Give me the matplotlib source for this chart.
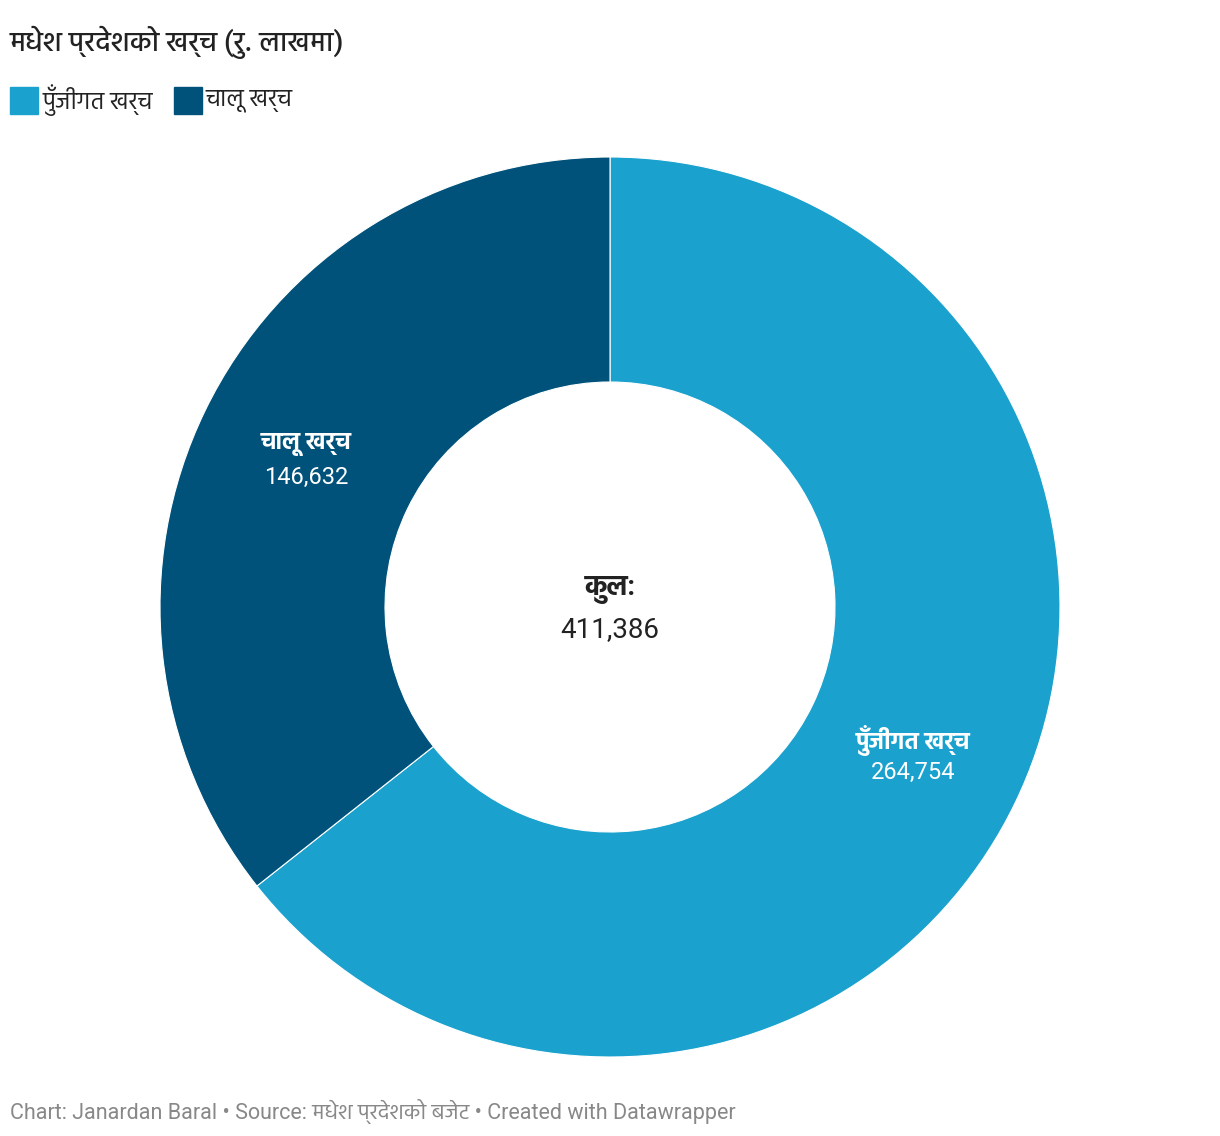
import matplotlib
matplotlib.use("Agg")
import matplotlib.pyplot as plt
from matplotlib.patches import Rectangle

# data
shirshak = ["पुँजीगत खर्च", "चालू खर्च"]
rakam = [264754, 146632]
rang = ["#1aa1ce", "#00527a"]
kul = sum(rakam)

plt.rcParams["font.family"] = ["Roboto", "Hind", "DejaVu Sans"]

fig = plt.figure(figsize=(12.2, 11.36), dpi=100)
W, H = 1220, 1136

# donut: center (610,607), radius 450 px
cx, cy, r = 610, 607, 450
ax = fig.add_axes([(cx - r) / W, 1 - (cy + r) / H, 2 * r / W, 2 * r / H])
wedges, _ = ax.pie(rakam, colors=rang, startangle=90, counterclock=False,
                   wedgeprops=dict(width=0.5, edgecolor="white", linewidth=0.8))
ax.set_xlim(-1, 1)
ax.set_ylim(-1, 1)
ax.set_aspect("equal")
ax.axis("off")

# nhãn trên vòng
vitri = [(913, 740), (306, 445)]
for ten, gt, (px, py) in zip(shirshak, rakam, vitri):
    x = (px - cx) / r
    y = -(py - cy) / r
    ax.text(x, y, ten, ha="center", va="center", color="white",
            fontsize=17, fontweight="bold")
    ax.text(x, y - 32 / r, f"{gt:,}", ha="center", va="center",
            color="white", fontsize=17)

ax.text(0, 17 / r, "कुल:", ha="center", va="center", color="#222222",
        fontsize=20, fontweight="bold")
ax.text(0, -23 / r, f"{kul:,}", ha="center", va="center", color="#222222",
        fontsize=20)

# tiêu đề
fig.text(10 / W, 1 - 42 / H, "मधेश प्रदेशको खर्च (रु. लाखमा)", ha="left",
         va="center", fontsize=20, color="#222222", fontweight="medium")

# chú giải
lx = 10
for ten, c in zip(shirshak, rang):
    fig.patches.append(Rectangle((lx / W, 1 - 114 / H), 28 / W, 27 / H,
                                 transform=fig.transFigure, color=c))
    t = fig.text((lx + 32) / W, 1 - 100 / H, ten, ha="left", va="center",
                 fontsize=17, color="#222222")
    fig.canvas.draw()
    bb = t.get_window_extent()
    lx = bb.x1 + 21

# nguồn
fig.text(10 / W, 1 - 1111 / H,
         "Chart: Janardan Baral • Source: मधेश प्रदेशको बजेट • Created with Datawrapper",
         ha="left", va="center", fontsize=15.5, color="#888888")

fig.savefig("out.png", dpi=100)
